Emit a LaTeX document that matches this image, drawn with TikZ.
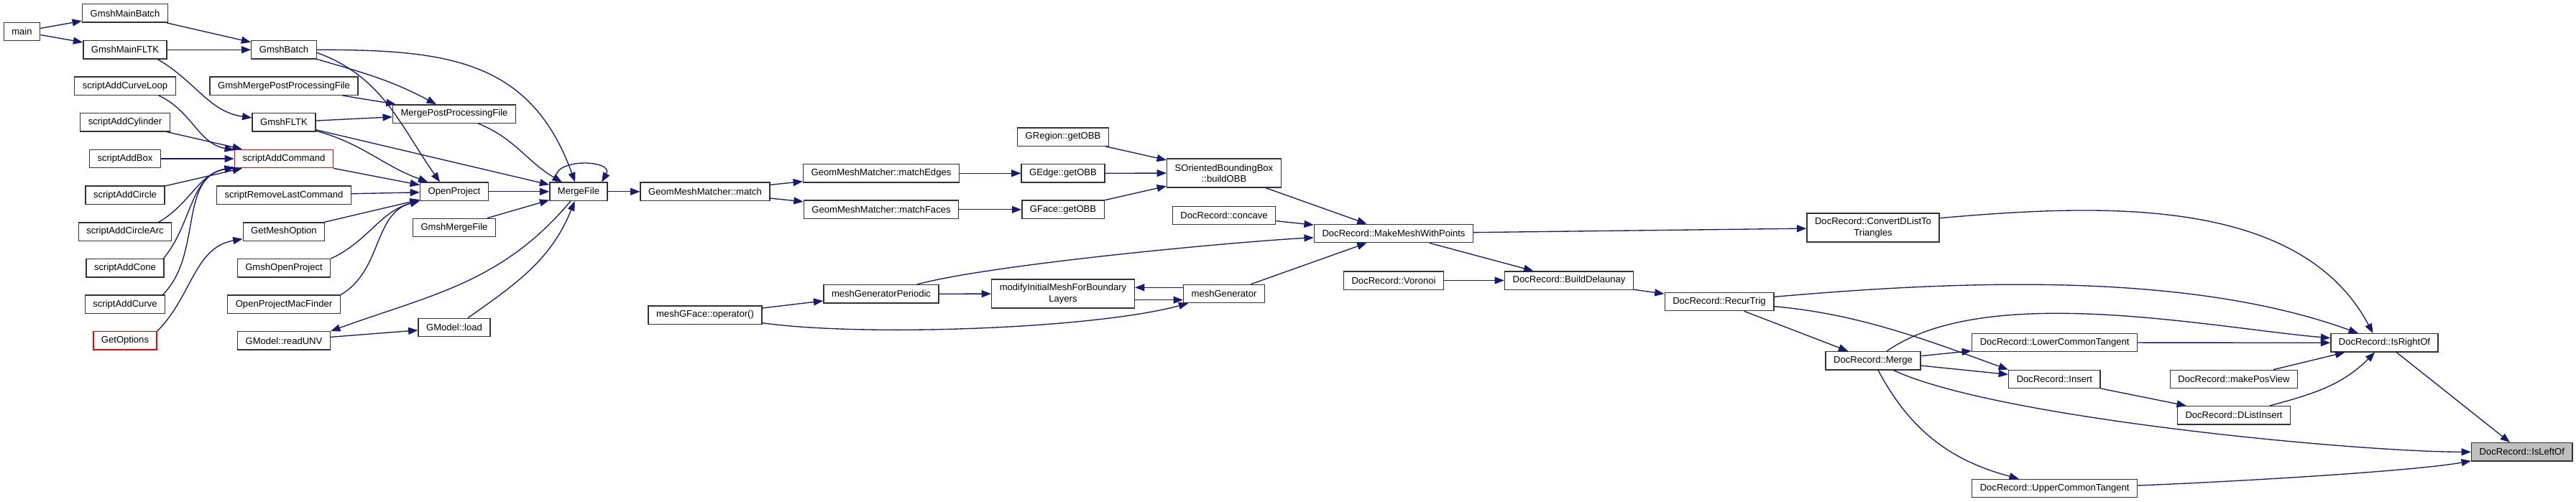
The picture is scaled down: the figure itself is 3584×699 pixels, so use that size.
\documentclass[tikz,border=0pt]{standalone}
\usepackage{fontspec}
\setmainfont{Liberation Sans}
\definecolor{azulnoche}{RGB}{25,25,112}
\definecolor{grisrelleno}{RGB}{191,191,191}
\definecolor{bordeoscuro}{RGB}{51,51,51}
\usetikzlibrary{arrows.meta}

\begin{document}
\begin{tikzpicture}[
  x=0.75pt, y=-0.75pt,
  every node/.style={font=\fontsize{9.8}{11.5}\selectfont},
  nodo/.style={
    rectangle,
    draw=bordeoscuro, line width=1pt,
    fill=white, align=center,
    inner xsep=8.3pt, inner ysep=0pt,
    minimum height=19pt},
  nodorojo/.style={nodo, draw=red},
  nodogris/.style={nodo, fill=grisrelleno},
  doble/.style={minimum height=30pt},
  llamada/.style={draw=azulnoche, line width=1pt, ->},
  >={Triangle[length=10pt,width=7.5pt]}
]
  \path[use as bounding box, fill=white] (0,0) rectangle (3584,699);

  %% ── Nodos: columna de scripts ─────────────────────────────
  \node[nodo](main) at (30.5,44) {main};
  \node[nodo](mainBatch) at (174,18.5) {GmshMainBatch};
  \node[nodo](mainFLTK) at (174,69.3) {GmshMainFLTK};
  \node[nodo](addCurveLoop) at (174,119.7) {scriptAddCurveLoop};
  \node[nodo](addCylinder) at (174,170.3) {scriptAddCylinder};
  \node[nodo](addBox) at (174,221) {scriptAddBox};
  \node[nodo](addCircle) at (174,271.7) {scriptAddCircle};
  \node[nodo](addCircleArc) at (174,322.6) {scriptAddCircleArc};
  \node[nodo](addCone) at (174,373.4) {scriptAddCone};
  \node[nodo](addCurve) at (174,423.8) {scriptAddCurve};
  \node[nodorojo](getOptions) at (174,474.4) {GetOptions};

  %% ── Nodos: columna Gmsh ───────────────────────────────────
  \node[nodo](gmshBatch) at (395,69.3) {GmshBatch};
  \node[nodo](mergePostGmsh) at (395,119.7) {GmshMergePostProcessingFile};
  \node[nodo](gmshFLTK) at (395,170.3) {GmshFLTK};
  \node[nodorojo](addCommand) at (395,221) {scriptAddCommand};
  \node[nodo](removeLast) at (395,271.7) {scriptRemoveLastCommand};
  \node[nodo](getMeshOption) at (395,322.6) {GetMeshOption};
  \node[nodo](openGmsh) at (395,373.4) {GmshOpenProject};
  \node[nodo](openMac) at (395,423.8) {OpenProjectMacFinder};
  \node[nodo](readUNV) at (395,474.4) {GModel::readUNV};

  \node[nodo](mergePost) at (632,158.5) {MergePostProcessingFile};
  \node[nodo](openProject) at (632,266.8) {OpenProject};
  \node[nodo](mergeGmsh) at (632,317) {GmshMergeFile};
  \node[nodo](load) at (632,455.9) {GModel::load};

  \node[nodo](mergeFile) at (805,266.8) {MergeFile};

  %% ── Nodos: malla y OBB ────────────────────────────────────
  \node[nodo](match) at (981,266.8) {GeomMeshMatcher::match};
  \node[nodo](meshOp) at (981,438.5) {meshGFace::operator()};
  \node[nodo](matchEdges) at (1226,241.3) {GeomMeshMatcher::matchEdges};
  \node[nodo](matchFaces) at (1226,291.8) {GeomMeshMatcher::matchFaces};
  \node[nodo](genPeriodic) at (1226,409.3) {meshGeneratorPeriodic};
  \node[nodo](regionOBB) at (1479,190.5) {GRegion::getOBB};
  \node[nodo](edgeOBB) at (1479,241.3) {GEdge::getOBB};
  \node[nodo](faceOBB) at (1479,291.8) {GFace::getOBB};
  \node[nodo, doble](modifyBL) at (1479,409)
    {modifyInitialMeshForBoundary\\Layers};
  \node[nodo, doble](buildOBB) at (1703,241)
    {SOrientedBoundingBox\\::buildOBB};
  \node[nodo](concave) at (1703,300) {DocRecord::concave};
  \node[nodo](meshGen) at (1703,409) {meshGenerator};

  %% ── Nodos: DocRecord ──────────────────────────────────────
  \node[nodo](makeMesh) at (1939,325) {DocRecord::MakeMeshWithPoints};
  \node[nodo](voronoi) at (1939,390.5) {DocRecord::Voronoi};
  \node[nodo](buildDel) at (2183,390.5) {DocRecord::BuildDelaunay};
  \node[nodo](recurTrig) at (2392,420) {DocRecord::RecurTrig};
  \node[nodo, doble](convertDL) at (2606,317)
    {DocRecord::ConvertDListTo\\Triangles};
  \node[nodo](merge) at (2606,502.3) {DocRecord::Merge};
  \node[nodo](lowerCT) at (2858.6,477) {DocRecord::LowerCommonTangent};
  \node[nodo](insert) at (2858.4,528) {DocRecord::Insert};
  \node[nodo](upperCT) at (2858.6,680) {DocRecord::UpperCommonTangent};
  \node[nodo](posView) at (3108,528) {DocRecord::makePosView};
  \node[nodo](dlInsert) at (3108,578.3) {DocRecord::DListInsert};
  \node[nodo](isRight) at (3317.5,477.3) {DocRecord::IsRightOf};
  \node[nodogris](isLeft) at (3508.8,629.3) {DocRecord::IsLeftOf};

  %% ── main y lanzadores ─────────────────────────────────────
  \draw[llamada] (main) -- (mainBatch);
  \draw[llamada] (main) -- (mainFLTK);
  \draw[llamada] (mainBatch) -- (gmshBatch);
  \draw[llamada] (mainFLTK) -- (gmshBatch);
  \draw[llamada] ([xshift=-10pt]mainFLTK.south east)
    to[out=-30, in=172] (gmshFLTK);
  \draw[llamada] (gmshBatch) to[out=0, in=110, looseness=1.15] (mergeFile);
  \draw[llamada] ([yshift=-3pt]gmshBatch.east)
    to[out=-20, in=125] ([xshift=-15pt]openProject.north);
  \draw[llamada] (gmshBatch) to[out=-16, in=152] (mergePost);
  \draw[llamada] (mergePostGmsh) -- (mergePost);
  \draw[llamada] (gmshFLTK) -- (mergePost);
  \draw[llamada] (gmshFLTK) -- (mergeFile);
  \draw[llamada] (gmshFLTK) to[out=-15, in=160] (openProject);

  %% ── scripts → scriptAddCommand ────────────────────────────
  \draw[llamada] ([xshift=-18pt]addCurveLoop.south east)
    to[out=-25, in=170] (addCommand);
  \draw[llamada] (addCylinder) -- (addCommand);
  \draw[llamada] (addBox) -- (addCommand);
  \draw[llamada] (addCircle) -- (addCommand);
  \draw[llamada] ([xshift=-14pt]addCircleArc.north east)
    to[out=30, in=190] (addCommand);
  \draw[llamada] ([xshift=-1pt]addCone.north east)
    to[out=50, in=190] (addCommand);
  \draw[llamada] ([xshift=-3pt]addCurve.north east)
    to[out=45, in=190] (addCommand);
  \draw[llamada] (getOptions.north east) to[out=45, in=190] (getMeshOption);

  %% ── → OpenProject ─────────────────────────────────────────
  \draw[llamada] (addCommand) -- (openProject);
  \draw[llamada] (removeLast) -- (openProject);
  \draw[llamada] (getMeshOption) -- (openProject);
  \draw[llamada] (openGmsh.north east) to[out=25, in=195] (openProject);
  \draw[llamada] (openMac.north east) to[out=30, in=195] (openProject);

  %% ── → MergeFile ───────────────────────────────────────────
  \draw[llamada] (openProject) -- (mergeFile);
  \draw[llamada] (mergeGmsh) -- (mergeFile);
  \draw[llamada] (mergePost) to[out=-22, in=150] (mergeFile);
  \draw[llamada] (load) to[out=35, in=-112] (mergeFile);
  \draw[llamada] (mergeFile) to[out=-130, in=20] (readUNV.north east);
  \draw[llamada] (readUNV) -- (load);
  \draw[llamada] ([xshift=7.5pt]mergeFile.north west)
    to[out=110, in=60, looseness=1.5] ([xshift=-6.5pt]mergeFile.north east);

  %% ── GeomMeshMatcher y OBB ─────────────────────────────────
  \draw[llamada] (mergeFile) -- (match);
  \draw[llamada] (match) -- (matchEdges);
  \draw[llamada] (match) -- (matchFaces);
  \draw[llamada] (matchEdges) -- (edgeOBB);
  \draw[llamada] (matchFaces) -- (faceOBB);
  \draw[llamada] (regionOBB) -- (buildOBB);
  \draw[llamada] (edgeOBB) -- (buildOBB);
  \draw[llamada] (faceOBB) -- (buildOBB);

  %% ── meshGenerator ─────────────────────────────────────────
  \draw[llamada] (meshOp) -- (genPeriodic);
  \draw[llamada] (meshOp) to[out=-8, in=195, looseness=0.6] (meshGen);
  \draw[llamada] (genPeriodic) -- (modifyBL);
  \draw[llamada] ([yshift=6.5pt]meshGen.west) -- ([yshift=6.5pt]modifyBL.east);
  \draw[llamada] ([yshift=-6.5pt]modifyBL.east) -- ([yshift=-6.5pt]meshGen.west);

  %% ── MakeMeshWithPoints ────────────────────────────────────
  \draw[llamada] (buildOBB) -- (makeMesh);
  \draw[llamada] (concave) -- (makeMesh);
  \draw[llamada] (genPeriodic) to[out=15, in=183, looseness=0.5] (makeMesh);
  \draw[llamada] (meshGen) -- (makeMesh);
  \draw[llamada] (makeMesh) -- (convertDL);
  \draw[llamada] (makeMesh) -- (buildDel);
  \draw[llamada] (voronoi) -- (buildDel);
  \draw[llamada] (buildDel) -- (recurTrig);

  %% ── RecurTrig y Merge ─────────────────────────────────────
  \draw[llamada] (recurTrig) -- (merge);
  \draw[llamada] (recurTrig) to[out=5, in=160, looseness=0.8] (isRight);
  \draw[llamada] (recurTrig) to[out=-5, in=160, looseness=0.9] (insert.north west);
  \draw[llamada] ([yshift=10pt]convertDL.east)
    to[out=5, in=118, looseness=0.9] ([xshift=-12pt]isRight.north);
  \draw[llamada] (merge) to[out=35, in=175, looseness=0.7] (isRight);
  \draw[llamada] (merge) -- (lowerCT);
  \draw[llamada] (merge) -- (insert);
  \draw[llamada] (merge) to[out=-25, in=180, looseness=0.5] (isLeft);
  \draw[llamada] (merge) to[out=-62, in=165] (upperCT);

  %% ── IsRightOf / IsLeftOf ──────────────────────────────────
  \draw[llamada] (lowerCT) -- (isRight);
  \draw[llamada] (posView) -- (isRight);
  \draw[llamada] (insert) -- (dlInsert);
  \draw[llamada] (dlInsert) to[out=15, in=-135] (isRight);
  \draw[llamada] (isRight) -- (isLeft);
  \draw[llamada] (upperCT) to[out=2, in=190, looseness=0.5] (isLeft);

\end{tikzpicture}
\end{document}
